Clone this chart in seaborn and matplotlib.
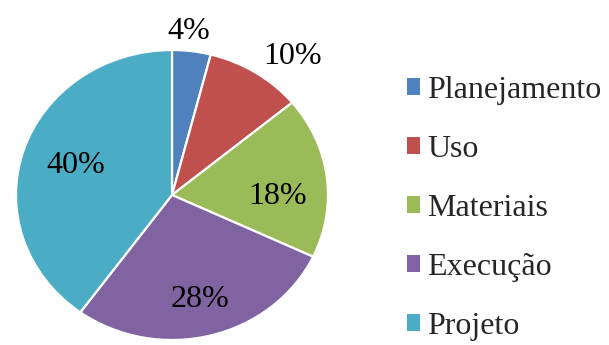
import numpy as np
import matplotlib
matplotlib.use("Agg")
import matplotlib.pyplot as plt
import seaborn as sns

categories = ["Planejamento", "Uso", "Materiais", "Execução", "Projeto"]
values = [4, 10, 18, 28, 40]
pct_labels = ["4%", "10%", "18%", "28%", "40%"]
hex_colors = ["#4F81BD", "#C0504D", "#9BBB59", "#8064A2", "#4BACC6"]

sns.set_style("white")
plt.rcParams["font.family"] = ["Liberation Serif", "DejaVu Serif"]

W, H = 609, 345
fig = plt.figure(figsize=(W / 100, H / 100), dpi=100)
# pie box in pixels (slightly elliptical like the reference)
left_px, right_px, top_px, bottom_px = 16, 328, 50, 340
ax = fig.add_axes([left_px / W, (H - bottom_px) / H,
                   (right_px - left_px) / W, (bottom_px - top_px) / H])

palette = sns.color_palette(hex_colors)
wedges, _ = ax.pie(values, colors=palette, startangle=90, counterclock=False,
                   radius=1.0, wedgeprops=dict(edgecolor="white", linewidth=1.6))
ax.set_aspect("auto")
ax.set_xlim(-1, 1)
ax.set_ylim(-1, 1)
ax.axis("off")

fs = 23
# label placement (distance from centre, angular offset in degrees)
label_dist = [1.16, 1.25, 0.68, 0.72, 0.66]
label_dang = [1.8, -5.8, -6.0, 0.0, -2.4]
for w, lab, d, da in zip(wedges, pct_labels, label_dist, label_dang):
    mid = np.deg2rad((w.theta1 + w.theta2) / 2 + da)
    ax.annotate(lab, (d * np.cos(mid), d * np.sin(mid)), xytext=(0, -2.5),
                textcoords="offset points", ha="center", va="center",
                fontsize=fs, color="black", annotation_clip=False)

leg = fig.legend(wedges, categories, loc="upper left",
                 bbox_to_anchor=(407 / W, 1 - 76 / H),
                 frameon=False, fontsize=fs, handlelength=0.42, handleheight=0.42,
                 handletextpad=0.22, labelspacing=0.94, borderpad=0, borderaxespad=0)
for h in leg.legend_handles:
    h.set_edgecolor("none")

fig.savefig("out.png", dpi=100)
